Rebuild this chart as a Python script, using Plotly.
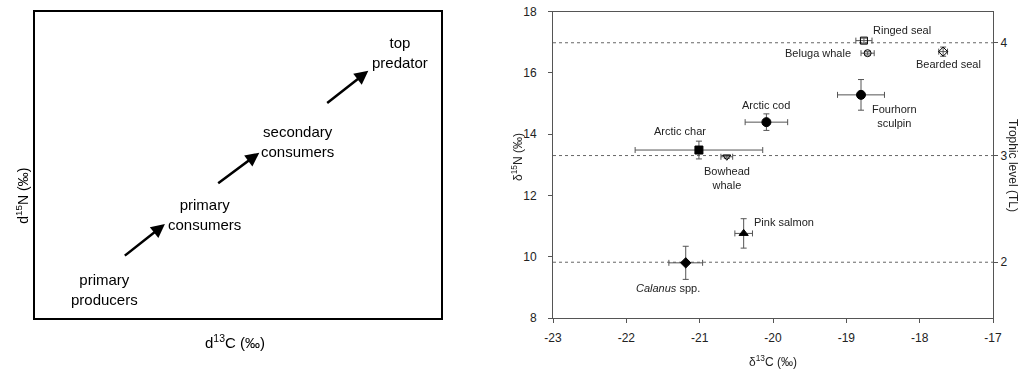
import plotly.graph_objects as go

W, H = 1020, 369

# ---------------- Right panel data ----------------
species = ["Calanus spp.", "Pink salmon", "Arctic char", "Bowhead whale", "Arctic cod",
           "Fourhorn sculpin", "Ringed seal", "Beluga whale", "Bearded seal"]
d13C = [-21.19, -20.40, -21.01, -20.63, -20.09, -18.80, -18.76, -18.71, -17.68]
d13C_sd = [0.23, 0.12, 0.87, 0.08, 0.29, 0.32, 0.11, 0.09, 0.06]
d15N = [9.80, 10.76, 13.48, 13.26, 14.39, 15.28, 17.05, 16.64, 16.69]
d15N_sd = [0.54, 0.48, 0.29, 0.05, 0.27, 0.50, 0.08, 0.06, 0.15]
symbols = ["diamond", "triangle-up", "square", "triangle-down-open", "circle",
           "circle", "square-open", "circle-open", "diamond-open"]
sizes = [8, 8, 8, 7, 9, 9, 7, 7, 7]
label_text = ["<i>Calanus</i> spp.", "Pink salmon", "Arctic char", "Bowhead<br>whale", "Arctic cod",
              "Fourhorn<br>sculpin", "Ringed seal", "Beluga whale", "Bearded seal"]
label_dx = [-18, 8, -19, 0, 0, 33, 38, -15, 5]
label_dy = [-25, 11, 19, -21, 17, -21, 11, 0, -12]
label_anchor = ["center", "left", "center", "center", "center", "center", "center", "right", "center"]

tl_levels = [9.82, 13.30, 16.98]
tl_labels = ["2", "3", "4"]
x_ticks = [-23, -22, -21, -20, -19, -18, -17]
x_ticklabels = ["-23", "-22", "-21", "-20", "-19", "-18", "-17"]
y_ticks = [8, 10, 12, 14, 16, 18]
y_ticklabels = ["8", "10", "12", "14", "16", "18"]

# ---------------- Left panel (schematic) ----------------
arrow_start = [(0.2175, 0.201), (0.4475, 0.438), (0.716, 0.700)]
arrow_end = [(0.320, 0.308), (0.5525, 0.541), (0.821, 0.809)]
stage_text = ["primary<br>producers", "primary<br>consumers", "secondary<br>consumers", "top<br>predator"]
stage_pos = [(0.172, 0.093), (0.418, 0.338), (0.647, 0.578), (0.899, 0.870)]

FONT = "Liberation Sans, Arial, sans-serif"
TXT = "#222222"
AX = "#555555"

def px(x):
    return x / W

def py(y):
    return 1 - y / H

fig = go.Figure()

# trophic level dashed lines
for lv in tl_levels:
    fig.add_trace(go.Scatter(x=[x_ticks[0], x_ticks[-1]], y=[lv, lv], mode="lines",
                             line=dict(color="#666666", width=1, dash="3px,3px"),
                             xaxis="x", yaxis="y", showlegend=False, hoverinfo="skip"))

fig.add_trace(go.Scatter(
    x=d13C, y=d15N, mode="markers", xaxis="x", yaxis="y", showlegend=False,
    marker=dict(symbol=symbols, size=sizes, color="black", opacity=1,
                line=dict(color="black", width=1)),
    error_x=dict(type="data", array=d13C_sd, visible=True, color=AX, thickness=1, width=3),
    error_y=dict(type="data", array=d15N_sd, visible=True, color=AX, thickness=1, width=3),
    text=species, hoverinfo="text"))

# invisible trace for right axis
fig.add_trace(go.Scatter(x=[x_ticks[0]], y=[tl_levels[0]], mode="markers", opacity=0,
                         xaxis="x", yaxis="y3", showlegend=False, hoverinfo="skip"))

# invisible trace for left panel axes
fig.add_trace(go.Scatter(x=[0, 1], y=[0, 1], mode="markers", opacity=0,
                         xaxis="x2", yaxis="y2", showlegend=False, hoverinfo="skip"))

annotations = []
for i in range(len(species)):
    annotations.append(dict(x=d13C[i], y=d15N[i], xref="x", yref="y", text=label_text[i],
                            showarrow=False, xshift=label_dx[i], yshift=label_dy[i],
                            xanchor=label_anchor[i], yanchor="middle",
                            font=dict(family=FONT, size=11, color=TXT)))

for (sx, sy), (ex, ey) in zip(arrow_start, arrow_end):
    annotations.append(dict(x=ex, y=ey, ax=sx, ay=sy, xref="x2", yref="y2", axref="x2", ayref="y2",
                            text="", showarrow=True, arrowhead=2, arrowsize=1.1, arrowwidth=2.5,
                            arrowcolor="black", standoff=0))
for t, (tx, ty) in zip(stage_text, stage_pos):
    annotations.append(dict(x=tx, y=ty, xref="x2", yref="y2", text=t, showarrow=False,
                            xanchor="center", yanchor="middle",
                            font=dict(family=FONT, size=15, color="black"), align="center"))

# axis titles
title_common = dict(xref="paper", yref="paper", showarrow=False, xanchor="center", yanchor="middle")
annotations += [
    dict(x=px(21.7), y=py(196), text="d<sup>15</sup>N (‰)", textangle=-90,
         font=dict(family=FONT, size=14, color="black"), **title_common),
    dict(x=px(235), y=py(341.7), text="d<sup>13</sup>C (‰)",
         font=dict(family=FONT, size=15, color="black"), **title_common),
    dict(x=px(773), y=py(361), text="δ<sup>13</sup>C (‰)",
         font=dict(family=FONT, size=12, color=TXT), **title_common),
    dict(x=px(517), y=py(157), text="δ<sup>15</sup>N (‰)", textangle=-90,
         font=dict(family=FONT, size=12, color=TXT), **title_common),
    dict(x=px(1013), y=py(165), text="Trophic level (TL)", textangle=90,
         font=dict(family=FONT, size=12, color=TXT), **title_common),
]

tickfont = dict(family=FONT, size=12, color=TXT)

fig.update_layout(
    template="none",
    width=W, height=H, autosize=False,
    margin=dict(l=0, r=0, t=0, b=0, pad=0, autoexpand=False),
    paper_bgcolor="white", plot_bgcolor="white",
    annotations=annotations,
    xaxis=dict(domain=[px(553), px(993)], range=[-23, -17], tickvals=x_ticks, ticktext=x_ticklabels,
               ticks="outside", ticklen=4, tickcolor=AX, showline=True, linecolor=AX,
               linewidth=1, mirror=True, showgrid=False, zeroline=False, tickfont=tickfont,
               ticklabelstandoff=5, anchor="y", automargin=False),
    yaxis=dict(domain=[py(318), py(11.5)], range=[8, 18], tickvals=y_ticks, ticktext=y_ticklabels,
               ticks="outside", ticklen=4, tickcolor=AX, showline=True, linecolor=AX,
               linewidth=1, mirror=True, showgrid=False, zeroline=False, tickfont=tickfont,
               ticklabelstandoff=9, anchor="x", automargin=False),
    yaxis3=dict(overlaying="y", side="right", anchor="x", range=[8, 18], tickvals=tl_levels,
                ticktext=tl_labels, ticks="outside", ticklen=4, tickcolor=AX,
                showline=False, showgrid=False, zeroline=False, tickfont=tickfont, automargin=False),
    xaxis2=dict(domain=[px(35), px(441)], range=[0, 1], showticklabels=False, ticks="",
                showline=True, linecolor="black", linewidth=1.5, mirror=True, showgrid=False,
                zeroline=False, anchor="y2", fixedrange=True, automargin=False),
    yaxis2=dict(domain=[py(318.3), py(12.3)], range=[0, 1], showticklabels=False, ticks="",
                showline=True, linecolor="black", linewidth=1.5, mirror=True, showgrid=False,
                zeroline=False, anchor="x2", fixedrange=True, automargin=False),
)

fig.write_html("out.html", config={"displayModeBar": False},
               post_script="document.body.style.margin='0';document.body.style.overflow='hidden';")
